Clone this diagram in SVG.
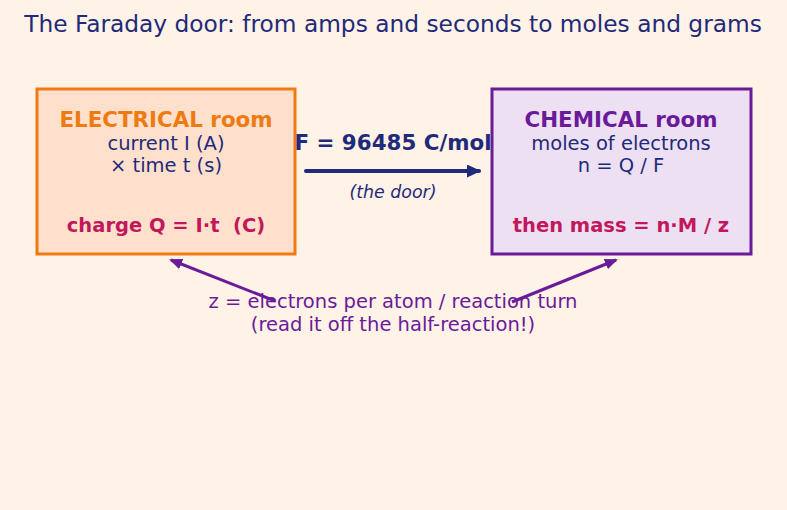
<svg xmlns="http://www.w3.org/2000/svg" width="787" height="510" viewBox="0 0 787 510">
<defs>
<marker id="ahN" markerWidth="14" markerHeight="13" refX="12" refY="6.5" orient="auto" markerUnits="userSpaceOnUse" viewBox="0 0 14 13"><path d="M0,0 L14,6.5 L0,13 z" fill="#1f2a7a"/></marker>
<marker id="ahP" markerWidth="13" markerHeight="11" refX="11" refY="5.5" orient="auto" markerUnits="userSpaceOnUse" viewBox="0 0 13 11"><path d="M0,0 L13,5.5 L0,11 z" fill="#6a1b9a"/></marker>
</defs>
<style>
text{font-family:"DejaVu Sans","Liberation Sans",sans-serif;text-anchor:middle}
.t{font-size:23.3px;fill:#1f2a7a}
.h{font-size:21.4px;font-weight:bold}
.b{font-size:19.5px;fill:#1f2a7a}
.r{font-size:19.5px;font-weight:bold;fill:#c2185b}
.p{font-size:19.5px;fill:#6a1b9a}
</style>
<rect width="787" height="510" fill="#fff2e6"/>
<text class="t" x="393" y="32">The Faraday door: from amps and seconds to moles and grams</text>
<g id="electrical">
<rect x="37" y="89" width="258" height="165" fill="#ffe0cc" stroke="#ef7a10" stroke-width="3"/>
<text class="h" x="166" y="127" fill="#ef7a10">ELECTRICAL room</text>
<text class="b" x="166" y="150">current I (A)</text>
<text class="b" x="166" y="172">× time t (s)</text>
<text class="r" x="166" y="232" xml:space="preserve">charge Q = I·t  (C)</text>
</g>
<g id="chemical">
<rect x="492" y="89" width="259" height="165" fill="#ede0f3" stroke="#6a1b9a" stroke-width="3"/>
<text class="h" x="621" y="127" fill="#6a1b9a">CHEMICAL room</text>
<text class="b" x="621" y="150">moles of electrons</text>
<text class="b" x="621" y="172">n = Q / F</text>
<text class="r" x="621" y="232">then mass = n·M / z</text>
</g>
<g id="connectors">
<line x1="306" y1="171" x2="479" y2="171" stroke="#1f2a7a" stroke-width="4" stroke-linecap="round" marker-end="url(#ahN)"/>
<line x1="275" y1="301" x2="171" y2="260" stroke="#6a1b9a" stroke-width="3" marker-end="url(#ahP)"/>
<line x1="512" y1="302" x2="616" y2="260" stroke="#6a1b9a" stroke-width="3" marker-end="url(#ahP)"/>
</g>
<g id="labels">
<text x="393" y="150" font-size="21.4" font-weight="bold" fill="#1f2a7a">F = 96485 C/mol</text>
<text x="393" y="198" font-size="17.4" font-style="italic" fill="#1f2a7a">(the door)</text>
<text class="p" x="393" y="308">z = electrons per atom / reaction turn</text>
<text class="p" x="393" y="331">(read it off the half-reaction!)</text>
</g>
</svg>
